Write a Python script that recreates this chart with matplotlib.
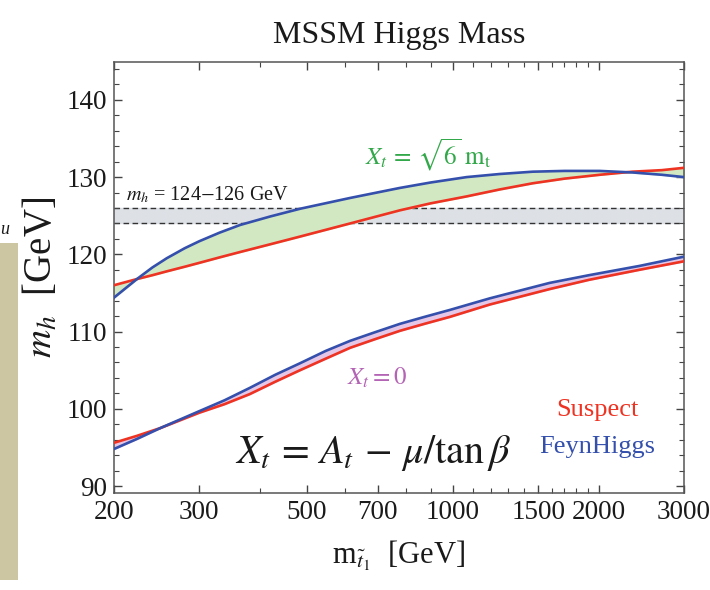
import matplotlib
matplotlib.use("Agg")
import matplotlib.pyplot as plt
from matplotlib.patches import Rectangle
from matplotlib.ticker import FixedLocator, FixedFormatter, NullFormatter

plt.rcParams['font.family'] = ['Liberation Serif', 'DejaVu Serif']
plt.rcParams['mathtext.fontset'] = 'stix'

# Xt = sqrt(6) m_t  (maximal mixing)
mstop_max = [200, 223, 240, 257, 280, 300, 330, 364, 420, 484, 614, 778, 900,
             1068, 1250, 1462, 1700, 2010, 2348, 2700, 3000]
mh_max_feynhiggs = [114.4, 116.8, 118.3, 119.5, 120.8, 121.7, 122.8, 123.8, 124.9, 125.9, 127.3,
                    128.6, 129.3, 130.0, 130.4, 130.7, 130.8, 130.8, 130.6, 130.3, 130.0]
mh_max_suspect = [116.0, 116.8, 117.3, 117.8, 118.4, 118.9, 119.6, 120.3, 121.3, 122.3, 124.0,
                  125.7, 126.6, 127.5, 128.4, 129.2, 129.8, 130.3, 130.7, 130.9, 131.2]

# Xt = 0  (no mixing)
mstop_zero = [200, 223, 249, 300, 338, 381, 430, 484, 547, 614, 690, 778, 874,
              986, 1192, 1584, 1910, 2428, 3000]
mh_zero_feynhiggs = [94.8, 96.1, 97.5, 99.7, 101.1, 102.7, 104.4, 105.9, 107.5, 108.8, 109.9,
                     111.0, 111.9, 112.8, 114.3, 116.3, 117.3, 118.5, 119.7]
mh_zero_suspect = [95.6, 96.5, 97.5, 99.5, 100.6, 101.9, 103.5, 105.0, 106.5, 107.9, 109.0,
                   110.1, 111.0, 111.9, 113.5, 115.5, 116.7, 118.0, 119.1]

# LHC window
mh_band = [124, 126]

x_major = [200, 300, 500, 700, 1000, 1500, 2000, 3000]
x_minor = [400, 600, 800, 900, 1100, 1200, 1300, 1400, 1600, 1700, 1800, 1900]
y_major = [90, 100, 110, 120, 130, 140]

RED = '#ee3322'
BLUE = '#3450ac'

fig = plt.figure(figsize=(7.1, 5.9), dpi=100)
ax = fig.add_axes([0.1606, 0.1644, 0.8028, 0.7305])

# shaded regions between the two codes
ax.axhspan(mh_band[0], mh_band[1], color='#dde1e6', zorder=0)
ax.axhline(mh_band[0], color='#333333', ls=(0, (4, 2.5)), lw=1.0, zorder=1)
ax.axhline(mh_band[1], color='#333333', ls=(0, (4, 2.5)), lw=1.0, zorder=1)
ax.fill_between(mstop_max, mh_max_suspect, mh_max_feynhiggs, color='#d2e8c3', zorder=2)
ax.fill_between(mstop_zero, mh_zero_suspect, mh_zero_feynhiggs, color='#e6c6e6', zorder=2)

ax.plot(mstop_max, mh_max_suspect, color=RED, lw=1.9, zorder=3)
ax.plot(mstop_max, mh_max_feynhiggs, color=BLUE, lw=1.9, zorder=4)
ax.plot(mstop_zero, mh_zero_suspect, color=RED, lw=1.9, zorder=3)
ax.plot(mstop_zero, mh_zero_feynhiggs, color=BLUE, lw=1.9, zorder=4)

ax.set_xscale('log')
ax.set_xlim(200, 3000)
ax.set_ylim(89.1, 144.9)

ax.xaxis.set_major_locator(FixedLocator(x_major))
ax.xaxis.set_major_formatter(FixedFormatter([str(v) for v in x_major]))
ax.xaxis.set_minor_locator(FixedLocator(x_minor))
ax.xaxis.set_minor_formatter(NullFormatter())
ax.yaxis.set_major_locator(FixedLocator(y_major))
ax.yaxis.set_minor_locator(FixedLocator([v for v in range(90, 146, 2) if v % 10]))

ax.tick_params(which='both', direction='in', top=True, right=True, colors='#444444',
               labelcolor='#1a1a1a', labelsize=19.5)
ax.tick_params(which='major', length=6, width=1.0, pad=5)
ax.tick_params(which='minor', length=3.5, width=0.8)
for s in ax.spines.values():
    s.set_color('#555555')
    s.set_linewidth(1.1)

ax.set_title('MSSM Higgs Mass', fontsize=23, pad=14, color='#1a1a1a')
ax.set_xlabel(r'm$_{\tilde{t}_1}$  [GeV]', fontsize=22, labelpad=10, color='#1a1a1a')
ax.set_ylabel(r'$m_h$  [GeV]', fontsize=28, color='#1a1a1a')
ax.yaxis.set_label_coords(-0.093, 0.5)

ax.text(212, 127.7, r'$m_h$ = 124$-$126 GeV', fontsize=14.5, color='#1a1a1a', va='center')
ax.text(658, 132.9, r'$X_t\,=\,\sqrt{6}\;\mathrm{m}_\mathrm{t}$', fontsize=18,
        color='#33a84a', ha='left', va='center')
ax.text(606, 104.0, r'$X_t = 0$', fontsize=18, color='#b464b4', va='center')
ax.text(355, 94.3, r'$X_t\,=\,A_t\,-\,\mu/\mathrm{tan}\,\beta$', fontsize=29,
        color='#1a1a1a', va='center')
ax.text(1990, 99.9, 'Suspect', fontsize=19, color=RED, ha='center', va='center')
ax.text(1990, 95.0, 'FeynHiggs', fontsize=19, color=BLUE, ha='center', va='center')

# strip of the neighbouring slide panel
fig.add_artist(Rectangle((0, 1 - 580 / 590), 18 / 710, 337 / 590,
                         transform=fig.transFigure, color='#ccc6a2', lw=0))
fig.text(0.0, 1 - 234 / 590, 'u', fontsize=13, style='italic', color='#1a1a1a')

fig.savefig('out.png', dpi=100)
